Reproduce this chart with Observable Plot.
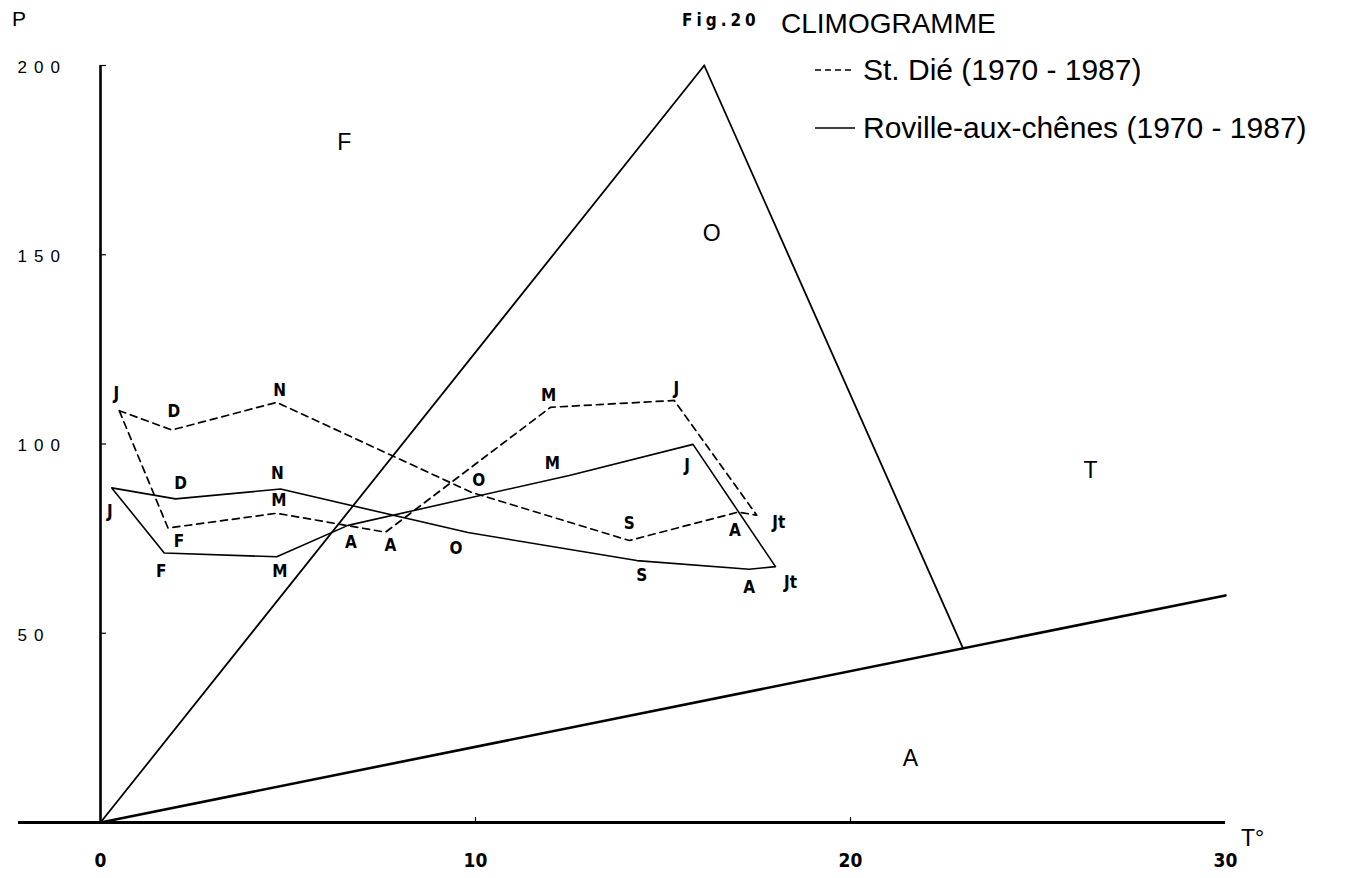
<!DOCTYPE html>
<html>
<head>
<meta charset="utf-8">
<script src="https://cdn.jsdelivr.net/npm/d3@7"></script>
<script src="https://cdn.jsdelivr.net/npm/@observablehq/plot@0.6"></script>
<style>
  body { margin: 0; background: #fff; }
  #wrap { position: relative; width: 1365px; height: 878px; font-family: "Liberation Sans", Arial, sans-serif; color: #000; }
  #chart { position: absolute; left: 0; top: 0; }
  .ov { position: absolute; white-space: nowrap; line-height: 1; }
  .fig { font-family: "Liberation Sans Narrow", "DejaVu Sans Condensed", "Liberation Sans", sans-serif; font-weight: bold; font-size: 17px; letter-spacing: 4px; }
  .leg { display: flex; align-items: center; font-size: 30px; }
  .leg svg { margin-right: 8px; }
</style>
</head>
<body>
<div id="wrap">
  <div id="chart"></div>
  <div class="ov" style="left:12px; top:8px; font-size:21px;">P</div>
  <div class="ov fig" style="left:682px; top:12px;">Fig.20</div>
  <div class="ov" style="left:781px; top:10px; font-size:28px;">CLIMOGRAMME</div>
  <div class="ov leg" style="left:815px; top:55px;">
    <svg width="40" height="4"><line x1="0" y1="2" x2="40" y2="2" stroke="#000" stroke-width="1.5" stroke-dasharray="6,4"></line></svg>
    <span id="leg1"></span>
  </div>
  <div class="ov leg" style="left:815px; top:113px;">
    <svg width="40" height="4"><line x1="0" y1="2" x2="40" y2="2" stroke="#000" stroke-width="1.5"></line></svg>
    <span id="leg2"></span>
  </div>
  <div class="ov" style="left:1241px; top:827px; font-size:23px;">T°</div>
</div>
<script>
// ---- data ----
const seriesNames = ["St. Dié (1970 - 1987)", "Roville-aux-chênes (1970 - 1987)"];
const monthLetters = ["J", "F", "M", "A", "M", "J", "Jt", "A", "S", "O", "N", "D"];

// St. Dié (dashed): mean temperature (°C) and precipitation (mm), Jan..Dec
const stDieT = [0.5, 1.8, 4.7, 7.6, 12.0, 15.3, 17.5, 17.0, 14.1, 9.9, 4.7, 1.9];
const stDieP = [108.8, 77.8, 81.7, 76.7, 109.7, 111.5, 81.2, 82.0, 74.5, 87.2, 111.0, 103.7];

// Roville-aux-chênes (solid)
const rovT = [0.3, 1.7, 4.7, 6.6, 12.5, 15.8, 18.0, 17.3, 14.3, 9.8, 4.8, 2.0];
const rovP = [88.4, 71.2, 70.2, 78.5, 91.7, 99.9, 67.6, 66.9, 69.2, 76.6, 88.1, 85.5];

// Zone boundary lines
const forestLineT = [0, 16.1];
const forestLineP = [0, 200];
const oceanLineT = [16.1, 23.0];
const oceanLineP = [200, 46];
const aridLineT = [0, 30];
const aridLineP = [0, 60];

// Zone labels
const zoneNames = ["F", "O", "T", "A"];
const zoneT = [6.5, 16.3, 26.4, 21.6];
const zoneP = [179.5, 155.5, 93, 17];

// Axis ticks
const xTicks = [0, 10, 20, 30];
const yTicks = [50, 100, 150, 200];

// Label placement offsets (pixels), style only
const stDieDx = [-3, 11, 2, 5, -2, 2, 22, -3, 0, 7, 3, 2];
const stDieDy = [-17, 14, -13, 13, -12, -12, 7, 18, -17, -12, -12, -18];
const rovDx = [-2, -3, 3, 3, -17, -6, 15, 0, 5, -12, -3, 5];
const rovDy = [24, 19, 15, 17, -12, 21, 16, 18, 15, 16, -15, -15];

// ---- build tables ----
const loop = (T, P) => d3.range(13).map(i => ({T: T[i % 12], P: P[i % 12]}));
const stDie = loop(stDieT, stDieP);
const rov = loop(rovT, rovP);
const seg = (T, P) => T.map((t, i) => ({T: t, P: P[i]}));
const zones = zoneNames.map((n, i) => ({name: n, T: zoneT[i], P: zoneP[i]}));

const labelFont = {fontFamily: "'Liberation Sans Narrow', 'DejaVu Sans Condensed', sans-serif", fontWeight: "bold", fontSize: 17};
const monthLabels = (T, P, DX, DY) => monthLetters.map((m, i) =>
  Plot.text([{T: T[i], P: P[i], m}], {x: "T", y: "P", text: "m", dx: DX[i], dy: DY[i], ...labelFont})
);

const W = 1365, H = 878;
const mL = 100, mR = 140, mT = 65, mB = 56;
const frameW = W - mL - mR, frameH = H - mT - mB;

const chart = Plot.plot({
  width: W, height: H,
  marginLeft: mL, marginRight: mR, marginTop: mT, marginBottom: mB,
  x: {domain: [0, 30]},
  y: {domain: [0, 200]},
  style: {background: "#fff", color: "#000"},
  marks: [
    // axes
    Plot.axisY({anchor: "left", ticks: yTicks, tickSize: 0, tickPadding: 0, textAnchor: "start", dx: -83, dy: 2, fontSize: 17, fontFamily: "'Liberation Sans', Arial, sans-serif", label: null}),
    Plot.axisX({anchor: "bottom", ticks: xTicks, tickSize: 0, tickPadding: 31, fontSize: 19, fontWeight: "bold", fontFamily: "'Liberation Sans Narrow', 'DejaVu Sans Condensed', sans-serif", label: null}),
    Plot.tickY(yTicks, {y: d => d, insetRight: frameW - 6, strokeWidth: 1.2}),
    Plot.tickX(xTicks.filter(d => d > 0 && d < 30), {x: d => d, insetTop: frameH - 5, strokeWidth: 1.2}),
    Plot.ruleX([0], {y1: 0, y2: 200, strokeWidth: 2.6}),
    Plot.ruleY([0], {insetLeft: -82, strokeWidth: 3}),
    // zone boundaries
    Plot.line(seg(forestLineT, forestLineP), {x: "T", y: "P", strokeWidth: 1.8}),
    Plot.line(seg(oceanLineT, oceanLineP), {x: "T", y: "P", strokeWidth: 1.8}),
    Plot.line(seg(aridLineT, aridLineP), {x: "T", y: "P", strokeWidth: 2.6}),
    Plot.text(zones, {x: "T", y: "P", text: "name", fontSize: 23, fontFamily: "'Liberation Sans', Arial, sans-serif"}),
    // climograms
    Plot.line(stDie, {x: "T", y: "P", strokeWidth: 1.7, strokeDasharray: "7,5"}),
    Plot.line(rov, {x: "T", y: "P", strokeWidth: 1.6}),
    ...monthLabels(stDieT, stDieP, stDieDx, stDieDy),
    ...monthLabels(rovT, rovP, rovDx, rovDy)
  ]
});
document.getElementById("chart").appendChild(chart);
d3.select(chart).selectAll('g[aria-label="y-axis tick label"] text').style("letter-spacing", "7px");
document.getElementById("leg1").textContent = seriesNames[0];
document.getElementById("leg2").textContent = seriesNames[1];
</script>
</body>
</html>
